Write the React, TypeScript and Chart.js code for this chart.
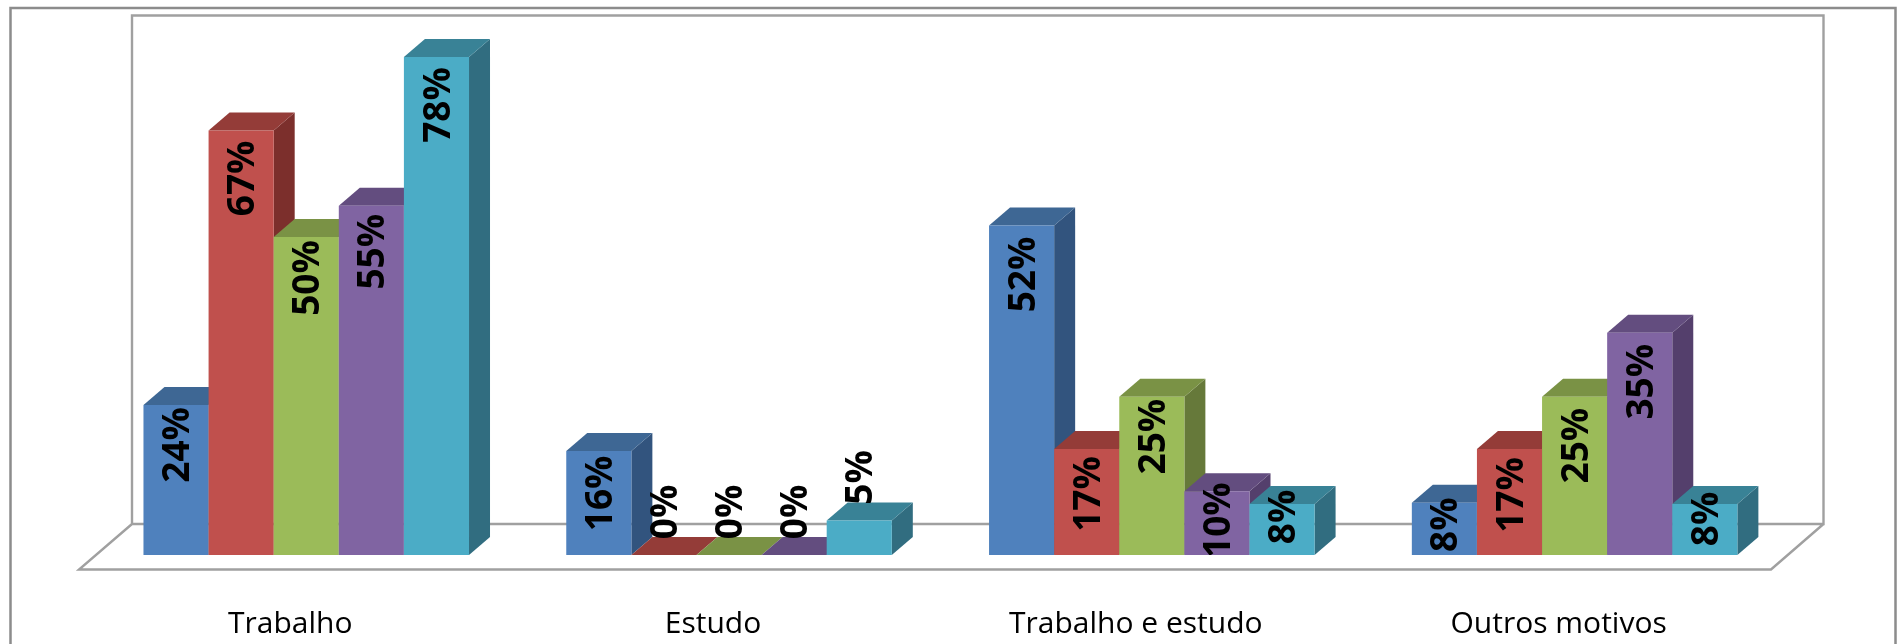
import React, { useEffect, useRef } from "react";
import { Chart, registerables } from "chart.js";

Chart.register(...registerables);

const categories = ["Trabalho", "Estudo", "Trabalho e estudo", "Outros motivos"];
const serieA = [23.5, 16.3, 51.6, 8.2];
const serieB = [66.5, 0, 16.6, 16.6];
const serieC = [49.8, 0, 24.8, 24.8];
const serieD = [54.7, 0, 10, 34.8];
const serieE = [78, 5.4, 8, 8];
const seriesValues = [serieA, serieB, serieC, serieD, serieE];

const frontColors = ["#4F81BD", "#C0504D", "#9BBB59", "#8064A2", "#4BACC6"];
const topColors = ["#3E6794", "#943C38", "#7A9245", "#634D7F", "#398296"];
const sideColors = ["#32547E", "#7C2F2C", "#66793A", "#543F6C", "#316D80"];

// vertical distance from the top of each bar to the middle of its rotated label
const labelDrop = [
  [40, 42.5, 49, 22],
  [48, -43, 45, 46],
  [41, -43, 40, 49],
  [46, -43, 29, 49],
  [48, -43, 13, 15],
];

const DEPTH_X = 21;
const DEPTH_Y = 18;

const poly = (ctx: CanvasRenderingContext2D, pts: number[][], fill: string) => {
  ctx.beginPath();
  pts.forEach(([x, y], i) => (i ? ctx.lineTo(x, y) : ctx.moveTo(x, y)));
  ctx.closePath();
  ctx.fillStyle = fill;
  ctx.fill();
};

const box3d = {
  id: "box3d",
  beforeDatasetsDraw(chart: any) {
    const ctx: CanvasRenderingContext2D = chart.ctx;
    // outer frame
    ctx.save();
    ctx.lineJoin = "miter";
    ctx.strokeStyle = "#8C8C8C";
    ctx.lineWidth = 2.5;
    ctx.beginPath();
    ctx.moveTo(10.5, 644);
    ctx.lineTo(10.5, 8);
    ctx.lineTo(1895.5, 8);
    ctx.lineTo(1895.5, 644);
    ctx.stroke();
    // back wall and floor
    ctx.strokeStyle = "#A0A0A0";
    ctx.lineWidth = 2.4;
    ctx.beginPath();
    ctx.moveTo(132, 524);
    ctx.lineTo(132, 15.5);
    ctx.lineTo(1823.5, 15.5);
    ctx.lineTo(1823.5, 524);
    ctx.closePath();
    ctx.moveTo(132, 524);
    ctx.lineTo(79, 569.5);
    ctx.lineTo(1771, 569.5);
    ctx.lineTo(1823.5, 524);
    ctx.stroke();

    // bars: each series covers the depth faces of the one before it
    chart.data.datasets.forEach((_: any, s: number) => {
      const meta = chart.getDatasetMeta(s);
      meta.data.forEach((bar: any) => {
        const { x, y, base, width } = bar.getProps(["x", "y", "base", "width"], true);
        const l = x - width / 2;
        const r = x + width / 2;
        poly(ctx, [[r, y], [r + DEPTH_X, y - DEPTH_Y], [r + DEPTH_X, base - DEPTH_Y], [r, base]], sideColors[s]);
        poly(ctx, [[l, y], [l + DEPTH_X, y - DEPTH_Y], [r + DEPTH_X, y - DEPTH_Y], [r, y]], topColors[s]);
        bar.draw(ctx, chart.chartArea);
      });
    });

    // rotated value labels, cut off at the base line
    const area = chart.chartArea;
    ctx.beginPath();
    ctx.rect(0, 0, chart.width, area.bottom);
    ctx.clip();
    ctx.fillStyle = "#000";
    ctx.font = "bold 37px 'Open Sans'";
    ctx.textAlign = "center";
    ctx.textBaseline = "middle";
    chart.data.datasets.forEach((ds: any, s: number) => {
      chart.getDatasetMeta(s).data.forEach((bar: any, c: number) => {
        ctx.save();
        ctx.translate(bar.x, bar.y + labelDrop[s][c]);
        ctx.rotate(-Math.PI / 2);
        ctx.fillText(Math.round(ds.data[c]) + "%", 0, 2.5);
        ctx.restore();
      });
    });
    ctx.restore();
    return false;
  },
};

export default function App() {
  const ref = useRef<HTMLCanvasElement>(null);
  useEffect(() => {
    const chart = new Chart(ref.current!, {
      type: "bar",
      data: {
        labels: categories,
        datasets: seriesValues.map((data, i) => ({
          data,
          backgroundColor: frontColors[i],
          borderWidth: 0,
        })),
      },
      options: {
        animation: false,
        responsive: false,
        layout: { padding: { left: 94.85, right: 111, top: 44.2, bottom: 0 } },
        plugins: { legend: { display: false }, title: { display: false }, tooltip: { enabled: false } },
        datasets: { bar: { barPercentage: 1, categoryPercentage: 0.77 } },
        scales: {
          x: {
            grid: { display: false },
            border: { display: false },
            afterFit: (s: any) => { s.height = 89; },
            ticks: {
              color: "#000",
              font: { family: "Open Sans", size: 30 },
              padding: 43,
              labelOffset: -16,
              maxRotation: 0,
            },
          },
          y: { display: false, min: 0, max: 80 },
        },
      },
      plugins: [box3d],
    } as any);
    return () => chart.destroy();
  }, []);
  return (
    <canvas
      ref={ref}
      width={1897}
      height={644}
      style={{ position: "fixed", left: 0, top: 0, background: "#fff" }}
    />
  );
}
